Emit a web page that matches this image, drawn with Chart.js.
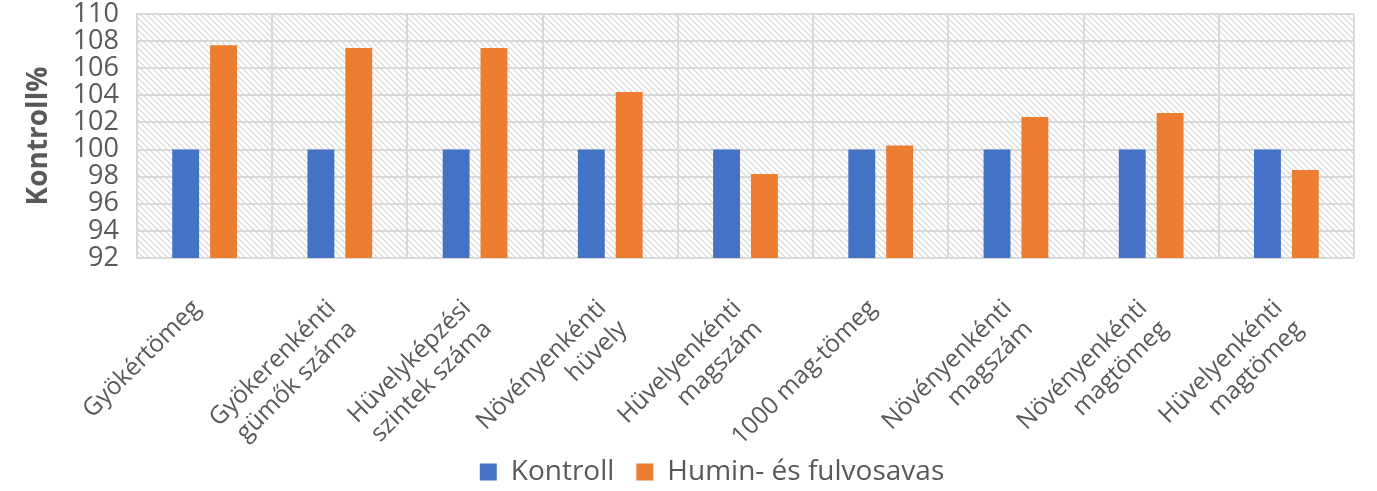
<!DOCTYPE html>
<html>
<head>
<meta charset="utf-8">
<script src="https://cdn.jsdelivr.net/npm/chart.js@4/dist/chart.umd.min.js"></script>
<style>
  html, body { margin: 0; padding: 0; background: #fff; }
  #wrap { width: 1377px; height: 491px; }
</style>
</head>
<body>
<div id="wrap"><canvas id="chart"></canvas></div>
<script>
const categories = [
    "Gyökértömeg",
    ["Gyökerenkénti", "gümők száma"],
    ["Hüvelyképzési", "szintek száma"],
    ["Növényenkénti", "hüvely"],
    ["Hüvelyenkénti", "magszám"],
    "1000 mag-tömeg",
    ["Növényenkénti", "magszám"],
    ["Növényenkénti", "magtömeg"],
    ["Hüvelyenkénti", "magtömeg"],
];
const kontroll = [100, 100, 100, 100, 100, 100, 100, 100, 100];
const humin = [107.7, 107.5, 107.5, 104.25, 98.2, 100.3, 102.4, 102.7, 98.5];
const seriesNames = ["Kontroll", "Humin- és fulvosavas"];

const gray = "#595959";

// diagonal hatch for the plot area
function makeHatch() {
    const c = document.createElement("canvas");
    c.width = 6;
    c.height = 6;
    const g = c.getContext("2d");
    g.fillStyle = "#ffffff";
    g.fillRect(0, 0, 6, 6);
    g.strokeStyle = "#d6d6d6";
    g.lineWidth = 1.2;
    g.beginPath();
    g.moveTo(-1, -1);
    g.lineTo(7, 7);
    g.moveTo(-4, 2);
    g.lineTo(4, 10);
    g.moveTo(2, -4);
    g.lineTo(10, 4);
    g.stroke();
    return g.createPattern(c, "repeat");
}

const hatchBackground = {
    id: "hatchBackground",
    beforeDraw(chart) {
        const { ctx, chartArea: a } = chart;
        ctx.save();
        ctx.fillStyle = makeHatch();
        ctx.fillRect(a.left, a.top, a.right - a.left, a.bottom - a.top);
        ctx.restore();
    },
};

// legend takes a thin strip at the bottom and sits a bit higher/righter
const legendPlace = {
    id: "legendPlace",
    afterInit(chart) {
        const lg = chart.legend;
        const fit = lg.fit.bind(lg);
        lg.fit = function () {
            fit();
            this.height = 39;
        };
    },
    afterLayout(chart) {
        const lg = chart.legend;
        lg.top -= 16;
        lg.height += 16;
        lg.left += 35;
        lg.right += 35;
    },
};

new Chart(document.getElementById("chart"), {
    type: "bar",
    data: {
        labels: categories,
        datasets: [
            {
                label: seriesNames[0],
                data: kontroll,
                backgroundColor: "#4472C4",
                categoryPercentage: 0.56,
                barPercentage: 0.71,
            },
            {
                label: seriesNames[1],
                data: humin,
                backgroundColor: "#ED7D31",
                categoryPercentage: 0.56,
                barPercentage: 0.71,
            },
        ],
    },
    plugins: [hatchBackground, legendPlace],
    options: {
        responsive: true,
        maintainAspectRatio: false,
        animation: false,
        layout: {
            padding: { top: 14, right: 23, left: 0, bottom: 0 },
        },
        plugins: {
            legend: {
                position: "bottom",
                labels: {
                    color: gray,
                    font: { family: "Open Sans", size: 28 },
                    boxWidth: 17,
                    boxHeight: 17,
                    padding: 22,
                },
            },
            tooltip: { enabled: false },
        },
        scales: {
            x: {
                grid: {
                    color: "#d9d9d9",
                    lineWidth: 2,
                    drawTicks: false,
                },
                border: { display: false },
                ticks: {
                    color: gray,
                    font: { family: "Open Sans", size: 24.5 },
                    maxRotation: 45,
                    minRotation: 45,
                    padding: 36,
                    labelOffset: -8,
                },
                afterFit(scale) {
                    scale.height = 194;
                },
            },
            y: {
                min: 92,
                max: 110,
                grid: {
                    color: "#d9d9d9",
                    lineWidth: 2,
                    drawTicks: false,
                },
                border: { color: "#d9d9d9", width: 2 },
                ticks: {
                    stepSize: 2,
                    autoSkip: false,
                    color: gray,
                    font: { family: "Open Sans", size: 27, lineHeight: 1 },
                    padding: 18,
                },
                title: {
                    display: true,
                    text: "Kontroll%",
                    color: gray,
                    font: { family: "Open Sans", size: 28, weight: "bold" },
                    padding: { top: 22, bottom: 0 },
                },
                afterFit(scale) {
                    scale.width = 137;
                    scale.paddingTop = 0;
                    scale.paddingBottom = 0;
                },
            },
        },
    },
});
</script>
</body>
</html>
